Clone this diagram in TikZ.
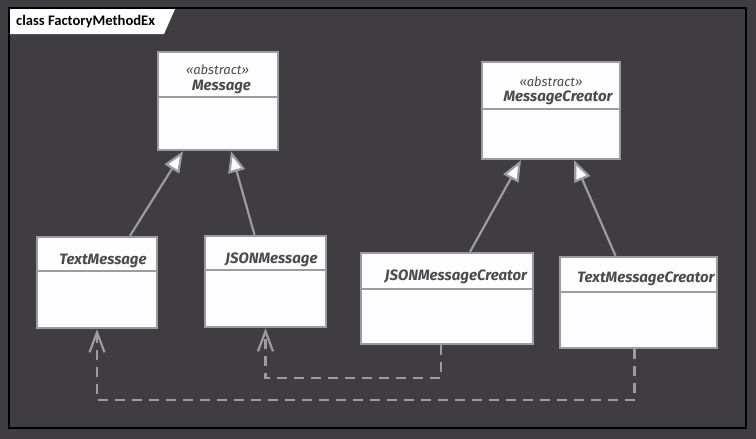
\documentclass[tikz,border=0pt]{standalone}
\usepackage{fontspec}
\setmainfont{Fira Sans}
\newfontfamily\titlefont{Carlito}
\usetikzlibrary{arrows.meta,positioning}

\definecolor{bgdark}{HTML}{3F3D41}
\definecolor{linegray}{HTML}{9C9B9E}
\definecolor{boxwhite}{HTML}{FDFCFE}
\definecolor{textgray}{HTML}{4B4A4D}

\tikzset{
  classbox/.style={draw=linegray, line width=2.4pt, fill=boxwhite, inner sep=0pt},
  divider/.style={draw=linegray, line width=2.2pt},
  stereo/.style={text=textgray, font=\itshape\fontsize{13}{15}\selectfont},
  cname/.style={text=textgray, font=\bfseries\itshape\fontsize{15}{17}\selectfont},
  gen/.style={draw=linegray, line width=2.2pt,
    -{Triangle[fill=boxwhite, length=21pt, width=17pt]}},
  dep/.style={draw=linegray, line width=2.2pt, dash pattern=on 10pt off 7pt,
    -{Straight Barb[length=20pt, width=15pt]}},
}

\begin{document}
\begin{tikzpicture}[x=1pt,y=-1pt]
\useasboundingbox (0,0) rectangle (756,439);
\fill[bgdark] (0,0) rectangle (756,439);
\draw[black, line width=1.2pt] (9,8) rectangle (746,428);

% title tab
\fill[white] (10,9) -- (175,9) -- (164,34) -- (10,34) -- cycle;
\node[anchor=west, inner sep=0pt, font=\titlefont\bfseries\fontsize{14.6}{16}\selectfont] (title) at (16,21.5) {class FactoryMethodEx};

% abstract classes
\node[classbox, minimum width=120pt, minimum height=98pt] (msg) at (218,101) {};
\draw[divider] ([yshift=-46pt]msg.north west) -- ([yshift=-46pt]msg.north east);
\node[stereo] (msgst) at (217.5,70) {«abstract»};
\node[cname] (msgname) at (221.5,87) {Message};

\node[classbox, minimum width=138pt, minimum height=97pt] (mc) at (551,110.5) {};
\draw[divider] ([yshift=-48pt]mc.north west) -- ([yshift=-48pt]mc.north east);
\node[stereo] (mcst) at (551,82) {«abstract»};
\node[cname] (mcname) at (558,98) {MessageCreator};

% concrete classes
\node[classbox, minimum width=120pt, minimum height=91pt] (txt) at (97,282.5) {};
\draw[divider] ([yshift=-35pt]txt.north west) -- ([yshift=-35pt]txt.north east);
\node[cname] (txtname) at (103,261) {TextMessage};

\node[classbox, minimum width=121pt, minimum height=91pt] (jm) at (265.5,281.5) {};
\draw[divider] ([yshift=-35pt]jm.north west) -- ([yshift=-35pt]jm.north east);
\node[cname] (jmname) at (271.5,260) {JSONMessage};

\node[classbox, minimum width=172pt, minimum height=91pt] (jmc) at (447,298.5) {};
\draw[divider] ([yshift=-37pt]jmc.north west) -- ([yshift=-37pt]jmc.north east);
\node[cname] (jmcname) at (456,277) {JSONMessageCreator};

\node[classbox, minimum width=157pt, minimum height=91pt] (tmc) at (638.5,302.5) {};
\draw[divider] ([yshift=-36pt]tmc.north west) -- ([yshift=-36pt]tmc.north east);
\node[cname] (tmcname) at (646,279) {TextMessageCreator};

% generalizations
\draw[gen] ([xshift=33pt]txt.north) -- ([xshift=-35pt]msg.south);
\draw[gen] ([xshift=-11pt]jm.north) -- ([xshift=13pt]msg.south);
\draw[gen] ([xshift=23pt]jmc.north) -- ([xshift=-30pt]mc.south);
\draw[gen] ([xshift=-23pt]tmc.north) -- ([xshift=23pt]mc.south);

% dependencies
\draw[dep] ([xshift=-6pt]jmc.south) -- ++(0,33) -| (jm.south);
\draw[dep] ([xshift=-4pt]tmc.south) -- ++(0,51) -| (txt.south);
\end{tikzpicture}
\end{document}
